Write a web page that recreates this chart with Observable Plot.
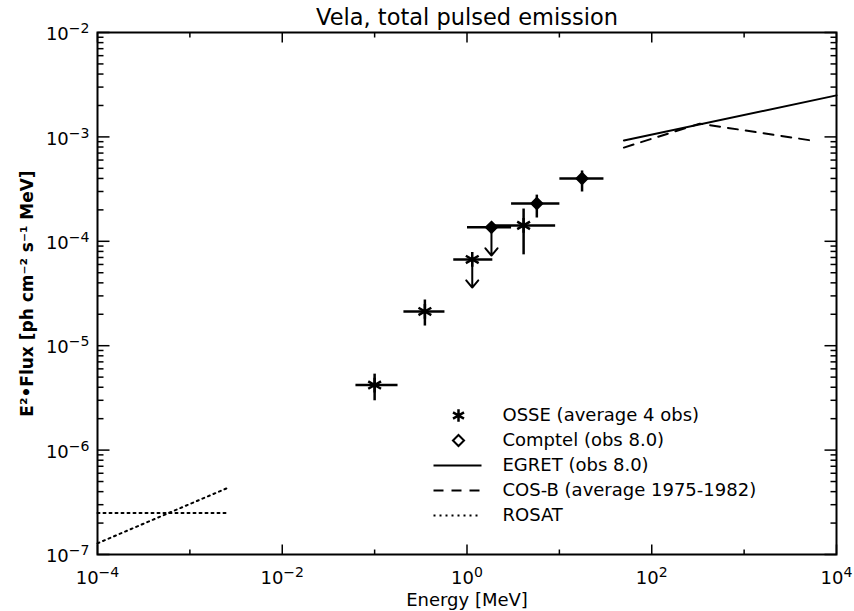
<!DOCTYPE html>
<html>
<head>
<meta charset="utf-8">
<script src="https://cdn.jsdelivr.net/npm/d3@7"></script>
<script src="https://cdn.jsdelivr.net/npm/@observablehq/plot@0.6"></script>
<style>
  html, body { margin: 0; padding: 0; background: white; }
</style>
</head>
<body>
<div id="chart"></div>
<script>
// ---------- data ----------
const titleText = "Vela, total pulsed emission";
const xLabel = "Energy [MeV]";
const yLabel = "E²•Flux [ph cm⁻² s⁻¹ MeV]";

const xTickVals = [1e-4, 1e-2, 1, 1e2, 1e4];
const xTickLabels = ["10^−4", "10^−2", "10^0", "10^2", "10^4"];
const xMinorVals = [1e-3, 1e-1, 1e1, 1e3];
const yTickVals = [1e-7, 1e-6, 1e-5, 1e-4, 1e-3, 1e-2];
const yTickLabels = ["10^−7", "10^−6", "10^−5", "10^−4", "10^−3", "10^−2"];

// OSSE (asterisks)
const osseE   = [0.1, 0.35, 1.14, 4.1];
const osseElo = [0.062, 0.205, 0.71, 1.9];
const osseEhi = [0.177, 0.57, 1.88, 9.0];
const osseF   = [4.2e-6, 2.13e-5, 6.7e-5, 1.42e-4];
const osseFlo = [3.0e-6, 1.56e-5, null, 7.5e-5];
const osseFhi = [5.4e-6, 2.77e-5, null, 2.06e-4];
const osseUL  = [null, null, 3.6e-5, null];

// COMPTEL (diamonds)
const comptelE   = [1.84, 5.7, 17.6];
const comptelElo = [1, 3, 10];
const comptelEhi = [3, 10, 30];
const comptelF   = [1.36e-4, 2.3e-4, 4.0e-4];
const comptelFlo = [null, 1.69e-4, 3.0e-4];
const comptelFhi = [null, 2.8e-4, 4.77e-4];
const comptelUL  = [7.3e-5, null, null];

// EGRET (solid)
const egretE = [50, 1e4];
const egretF = [9.25e-4, 2.5e-3];
// COS-B (dashed)
const cosbE = [50, 330, 6000];
const cosbF = [7.9e-4, 1.34e-3, 9.1e-4];
// ROSAT (dotted)
const rosatE = [1e-4, 2.5e-3];
const rosatFlatF = [2.5e-7, 2.5e-7];
const rosatSlopeF = [1.28e-7, 4.3e-7];

const legendLabels = ["OSSE (average 4 obs)", "Comptel (obs 8.0)", "EGRET (obs 8.0)", "COS-B (average 1975-1982)", "ROSAT"];

// ---------- build tables ----------
const osse = osseE.map((e, i) => ({e, elo: osseElo[i], ehi: osseEhi[i], f: osseF[i], flo: osseFlo[i], fhi: osseFhi[i], ul: osseUL[i]}));
const comptel = comptelE.map((e, i) => ({e, elo: comptelElo[i], ehi: comptelEhi[i], f: comptelF[i], flo: comptelFlo[i], fhi: comptelFhi[i], ul: comptelUL[i]}));
const egret = egretE.map((e, i) => ({e, f: egretF[i]}));
const cosb = cosbE.map((e, i) => ({e, f: cosbF[i]}));
const rosatFlat = rosatE.map((e, i) => ({e, f: rosatFlatF[i]}));
const rosatSlope = rosatE.map((e, i) => ({e, f: rosatSlopeF[i]}));

const yAll = d3.scaleLog().domain([1e-7, 1e-2]).ticks();
const yMinorVals = yAll.filter(v => Math.abs(Math.log10(v) - Math.round(Math.log10(v))) > 1e-6);

const lineShape = {draw(context, l) { context.moveTo(0, 0); context.lineTo(0, -l); }};

const xMin = 1e-4, xMax = 1e4, yMin = 1e-7, yMax = 1e-2;

function tickMarks(vals, len, side) {
  const common = {length: len, anchor: "start", shape: lineShape, stroke: "black", strokeWidth: 1.5, strokeLinecap: "butt"};
  if (side === "bottom") return Plot.vector(vals, {...common, x: d => d, y: () => yMin, rotate: 0});
  if (side === "top") return Plot.vector(vals, {...common, x: d => d, y: () => yMax, rotate: 180});
  if (side === "left") return Plot.vector(vals, {...common, x: () => xMin, y: d => d, rotate: 90});
  return Plot.vector(vals, {...common, x: () => xMax, y: d => d, rotate: -90});
}

const FS = 18;
const legendTop = 383, legendStep = 25;
const legendMarks = [];
legendMarks.push(Plot.dot([0], {frameAnchor: "top-left", dx: 361, dy: legendTop, symbol: "asterisk", r: 6, stroke: "black", strokeWidth: 2.5}));
legendMarks.push(Plot.dot([0], {frameAnchor: "top-left", dx: 361, dy: legendTop + legendStep, symbol: "diamond2", r: 5, stroke: "black", fill: "white", strokeWidth: 2}));
const legendLine = {frameAnchor: "top-left", dx: 336, length: 48, rotate: 90, anchor: "start", shape: lineShape, stroke: "black", strokeWidth: 2, strokeLinecap: "butt"};
legendMarks.push(Plot.vector([0], {...legendLine, dy: legendTop + 2 * legendStep}));
legendMarks.push(Plot.vector([0], {...legendLine, dy: legendTop + 3 * legendStep, strokeDasharray: "10,8"}));
legendMarks.push(Plot.vector([0], {...legendLine, dy: legendTop + 4 * legendStep, strokeDasharray: "2,4"}));
legendLabels.forEach((t, i) => {
  legendMarks.push(Plot.text([t], {frameAnchor: "top-left", dx: 405, dy: legendTop + i * legendStep, textAnchor: "start", lineAnchor: "middle", fontSize: FS, fill: "black"}));
});

const chart = Plot.plot({
  width: 854,
  height: 611,
  marginLeft: 97,
  marginRight: 18,
  marginTop: 32,
  marginBottom: 57,
  style: {fontFamily: "DejaVu Sans", background: "white", color: "black"},
  x: {type: "log", domain: [xMin, xMax], axis: null},
  y: {type: "log", domain: [yMin, yMax], axis: null},
  marks: [
    // data lines
    Plot.line(egret, {x: "e", y: "f", stroke: "black", strokeWidth: 2}),
    Plot.line(cosb, {x: "e", y: "f", stroke: "black", strokeWidth: 2, strokeDasharray: "10,8"}),
    Plot.line(rosatFlat, {x: "e", y: "f", stroke: "black", strokeWidth: 2, strokeDasharray: "2,4"}),
    Plot.line(rosatSlope, {x: "e", y: "f", stroke: "black", strokeWidth: 2, strokeDasharray: "2,4"}),
    // OSSE
    Plot.link(osse, {x1: "elo", x2: "ehi", y1: "f", y2: "f", stroke: "black", strokeWidth: 2.5}),
    Plot.link(osse.filter(d => d.flo != null), {x1: "e", x2: "e", y1: "flo", y2: "fhi", stroke: "black", strokeWidth: 2.5}),
    Plot.arrow(osse.filter(d => d.ul != null), {x1: "e", x2: "e", y1: "f", y2: "ul", stroke: "black", strokeWidth: 2, headLength: 9, headAngle: 80}),
    Plot.dot(osse, {x: "e", y: "f", symbol: "asterisk", r: 7, stroke: "black", strokeWidth: 2.5}),
    // COMPTEL
    Plot.link(comptel, {x1: "elo", x2: "ehi", y1: "f", y2: "f", stroke: "black", strokeWidth: 2.5}),
    Plot.link(comptel.filter(d => d.flo != null), {x1: "e", x2: "e", y1: "flo", y2: "fhi", stroke: "black", strokeWidth: 2.5}),
    Plot.arrow(comptel.filter(d => d.ul != null), {x1: "e", x2: "e", y1: "f", y2: "ul", stroke: "black", strokeWidth: 2, headLength: 9, headAngle: 80}),
    Plot.dot(comptel, {x: "e", y: "f", symbol: "diamond2", r: 5, stroke: "black", fill: "black", strokeWidth: 2}),
    // frame & ticks
    Plot.frame({stroke: "black", strokeWidth: 2}),
    tickMarks(xTickVals, 10, "bottom"), tickMarks(xMinorVals, 5, "bottom"),
    tickMarks(xTickVals, 10, "top"), tickMarks(xMinorVals, 5, "top"),
    tickMarks(yTickVals, 12, "left"), tickMarks(yMinorVals, 6, "left"),
    tickMarks(yTickVals, 12, "right"), tickMarks(yMinorVals, 6, "right"),
    // tick labels
    Plot.text(xTickVals, {x: d => d, y: () => yMin, dy: 24, text: (d, i) => xTickLabels[i], fontSize: FS, fill: "black"}),
    Plot.text(yTickVals, {x: () => xMin, y: d => d, dx: -8, dy: 2, text: (d, i) => yTickLabels[i], textAnchor: "end", fontSize: FS, fill: "black"}),
    // axis labels & title
    Plot.text([xLabel], {frameAnchor: "bottom", dy: 46, lineAnchor: "middle", fontSize: FS, fill: "black"}),
    Plot.text([yLabel], {frameAnchor: "left", dx: -70, rotate: -90, textAnchor: "middle", lineAnchor: "middle", fontSize: 17, fontWeight: "bold", fill: "black"}),
    Plot.text([titleText], {frameAnchor: "top", dy: -15, lineAnchor: "middle", fontSize: 22.5, fill: "black"}),
    ...legendMarks
  ]
});

// superscript exponents for tick labels
d3.select(chart).selectAll("text").each(function() {
  const s = this.textContent;
  const m = /^10\^(.+)$/.exec(s);
  if (!m) return;
  const t = d3.select(this);
  t.text(null);
  t.append("tspan").text("10");
  t.append("tspan").attr("dy", "-0.5em").attr("font-size", "0.78em").text(m[1]);
});

document.getElementById("chart").appendChild(chart);
</script>
</body>
</html>
